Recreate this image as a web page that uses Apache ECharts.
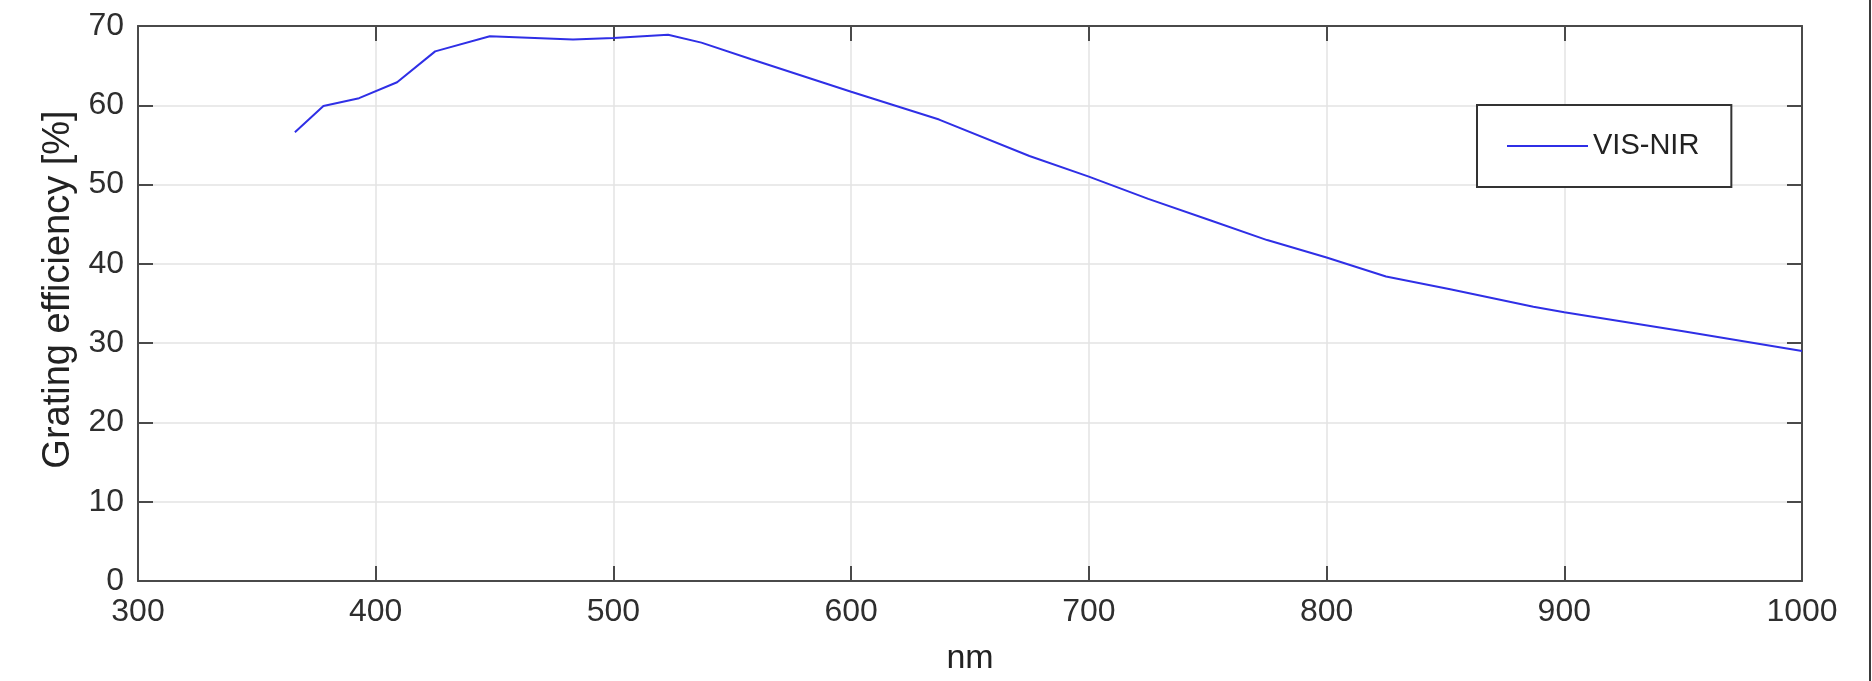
<!DOCTYPE html>
<html>
<head>
<meta charset="utf-8">
<script src="https://cdn.jsdelivr.net/npm/echarts@6/dist/echarts.min.js"></script>
<style>
html,body{margin:0;padding:0;background:#fff;}
#chart{width:1872px;height:681px;}
</style>
</head>
<body>
<div id="chart"></div>
<script>
const wavelengths = [366, 378, 393, 409, 425, 448, 483, 500, 523, 537, 558, 600, 637, 675, 700, 725, 751, 775, 800, 825, 852, 887, 900, 950, 1000];
const efficiency  = [56.6, 59.9, 60.9, 62.9, 66.8, 68.7, 68.3, 68.5, 68.9, 67.9, 65.8, 61.7, 58.2, 53.6, 51.0, 48.2, 45.5, 43.0, 40.8, 38.4, 36.8, 34.6, 33.9, 31.5, 29.0];
const seriesName = 'VIS-NIR';
const xTitle = 'nm';
const yTitle = 'Grating efficiency [%]';

const font = 'Liberation Sans, Arial, Helvetica, sans-serif';
const axisColor = '#4a4a4a';
const textColor = '#2e2e2e';
const gridColor = '#e3e3e3';

const chart = echarts.init(document.getElementById('chart'));
const pts = wavelengths.map((w, i) => [w, efficiency[i]]);

chart.setOption({
  animation: false,
  backgroundColor: '#ffffff',
  grid: {left: 138, right: 70, top: 26, bottom: 97, containLabel: false},
  legend: {
    data: [seriesName],
    left: 1477, top: 105,
    padding: [26, 32, 26, 30],
    icon: 'rect',
    itemWidth: 81, itemHeight: 2, itemGap: 0,
    borderColor: '#333333', borderWidth: 2, backgroundColor: '#ffffff',
    textStyle: {fontFamily: font, fontSize: 29, color: '#222222', lineHeight: 30}
  },
  xAxis: [{
    type: 'value', min: 300, max: 1000, interval: 100,
    name: xTitle, nameLocation: 'middle', nameGap: 61,
    nameTextStyle: {fontFamily: font, fontSize: 34, color: '#222222'},
    axisLine: {show: true, onZero: false, lineStyle: {color: axisColor, width: 2}},
    axisTick: {show: true, inside: true, length: 15, lineStyle: {color: axisColor, width: 2}},
    axisLabel: {fontFamily: font, fontSize: 32, color: textColor, margin: 15, formatter: v => String(v)},
    splitLine: {show: true, lineStyle: {color: gridColor, width: 1.5}}
  }, {
    type: 'value', min: 300, max: 1000, interval: 100, position: 'top',
    axisLine: {show: true, onZero: false, lineStyle: {color: axisColor, width: 2}},
    axisTick: {show: true, inside: true, length: 15, lineStyle: {color: axisColor, width: 2}},
    axisLabel: {show: false}, splitLine: {show: false}
  }],
  yAxis: [{
    type: 'value', min: 0, max: 70, interval: 10,
    name: yTitle, nameLocation: 'middle', nameGap: 58, nameRotate: 90,
    nameTextStyle: {fontFamily: font, fontSize: 38, color: '#222222', padding: [0, 0, 0, 28]},
    axisLine: {show: true, onZero: false, lineStyle: {color: axisColor, width: 2}},
    axisTick: {show: true, inside: true, length: 15, lineStyle: {color: axisColor, width: 2}},
    axisLabel: {fontFamily: font, fontSize: 32, color: textColor, margin: 14},
    splitLine: {show: true, lineStyle: {color: gridColor, width: 1.5}}
  }, {
    type: 'value', min: 0, max: 70, interval: 10, position: 'right',
    axisLine: {show: true, onZero: false, lineStyle: {color: axisColor, width: 2}},
    axisTick: {show: true, inside: true, length: 15, lineStyle: {color: axisColor, width: 2}},
    axisLabel: {show: false}, splitLine: {show: false}
  }],
  graphic: [{
    type: 'rect', right: 1, top: 0,
    shape: {width: 2, height: 681},
    style: {fill: '#3a3a3a'}
  }],
  series: [{
    name: seriesName, type: 'line', data: pts,
    xAxisIndex: 0, yAxisIndex: 0,
    symbol: 'none', smooth: false,
    lineStyle: {color: '#2f2fe6', width: 2},
    itemStyle: {color: '#2f2fe6'}
  }]
});
</script>
</body>
</html>
